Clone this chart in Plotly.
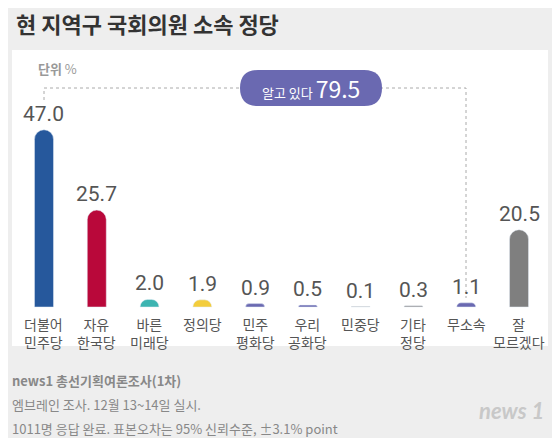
import plotly.graph_objects as go

W, H = 560, 438
OFF = 8  # page body margin
parties = ["더불어<br>민주당", "자유<br>한국당", "바른<br>미래당", "정의당", "민주<br>평화당",
           "우리<br>공화당", "민중당", "기타<br>정당", "무소속", "잘<br>모르겠다"]
values = [47.0, 25.7, 2.0, 1.9, 0.9, 0.5, 0.1, 0.3, 1.1, 20.5]
colors = ["#26589c", "#b9083a", "#3cb4b1", "#f3cd3c", "#6a69b1", "#6a69b1",
          "#8a8a8a", "#8a8a8a", "#6a69b1", "#7f7f7f"]
known_total = 79.5

FONT = "Noto Sans CJK KR"


def px(x, y):
    return (x - OFF) / W, 1 - (y - OFF) / H


x = list(range(len(values)))
fig = go.Figure(go.Bar(x=x, y=values, marker_color=colors, width=0.36,
                       marker_cornerradius=10, hoverinfo="skip"))

ann = []
shapes = []

# background card
x0, y0 = px(12, 50)
x1, y1 = px(548, 346)
shapes.append(dict(type="rect", xref="paper", yref="paper", x0=x0, y0=y1, x1=x1, y1=y0,
                   fillcolor="white", line_width=0, layer="below"))

# dotted bracket
ax, ay = px(44, 88)
bx, by = px(466, 88)
_, cy = px(0, 100)
shapes.append(dict(type="path", xref="paper", yref="paper", layer="below",
                   path=f"M {ax},{cy} L {ax},{ay} L {bx},{ay} L {bx},{px(0,298)[1]}",
                   line=dict(color="#aaaaaa", width=1, dash="dot")))
# pill
pl, pt = px(240, 70)
pr, pb = px(382, 106)
r = 18 / W
shapes.append(dict(type="path", xref="paper", yref="paper", layer="below",
                   path=(f"M {pl + r},{pt} L {pr - r},{pt} Q {pr},{pt} {pr},{(pt + pb) / 2} "
                         f"Q {pr},{pb} {pr - r},{pb} L {pl + r},{pb} Q {pl},{pb} {pl},{(pt + pb) / 2} "
                         f"Q {pl},{pt} {pl + r},{pt} Z"),
                   fillcolor="#6a69b1", line_width=0))
mx, my = px(311, 88)
ann.append(dict(xref="paper", yref="paper", x=mx, y=my, showarrow=False, yanchor="middle",
                text=f"<span style='font-size:13px'>알고 있다 </span><span style='font-size:23px'>{known_total}</span>",
                font=dict(family=FONT, color="white")))

for i, (v, lab) in enumerate(zip(values, parties)):
    ann.append(dict(x=i, y=v, yshift=2, showarrow=False, yanchor="bottom",
                    text=f"{v:.1f}", font=dict(family="Roboto", size=21, color="#555555")))
    ann.append(dict(x=i, y=0, yshift=-5, showarrow=False, yanchor="top",
                    text=lab, font=dict(family=FONT, size=14, color="#555555")))

tx, ty = px(14, 23)
ann.append(dict(xref="paper", yref="paper", x=tx, y=ty, xanchor="left", yanchor="middle", showarrow=False,
                text="<b>현 지역구 국회의원 소속 정당</b>", font=dict(family=FONT, size=22, color="#333333")))
ux, uy = px(36, 69)
ann.append(dict(xref="paper", yref="paper", x=ux, y=uy, xanchor="left", yanchor="middle", showarrow=False,
                text="<b>단위</b> %", font=dict(family=FONT, size=13, color="#999999")))
for yy, txt in [(380, "<b>news1 총선기획여론조사(1차)</b>"),
                (404, "엠브레인 조사. 12월 13~14일 실시."),
                (428, "1011명 응답 완료. 표본오차는 95% 신뢰수준, ±3.1% point")]:
    fx, fy = px(10, yy)
    ann.append(dict(xref="paper", yref="paper", x=fx, y=fy, xanchor="left", yanchor="middle", showarrow=False,
                    text=txt, font=dict(family=FONT, size=13, color="#888888")))
lx, ly = px(546, 410)
ann.append(dict(xref="paper", yref="paper", x=lx, y=ly, xanchor="right", yanchor="middle", showarrow=False,
                text="<b><i>news 1</i></b>", font=dict(family="Lato", size=22, color="#c8c8c8")))

spacing = 52.8
fig.update_layout(
    width=W, height=H, margin=dict(l=0, r=0, t=0, b=0),
    paper_bgcolor="#eeeeee", plot_bgcolor="rgba(0,0,0,0)",
    xaxis=dict(range=[-(44 - OFF) / spacing, 9 + (W - (519 - OFF)) / spacing], visible=False),
    yaxis=dict(range=[-(H - (307 - OFF)) / 3.77, (307 - OFF) / 3.77], visible=False),
    showlegend=False, annotations=ann, shapes=shapes,
)
fig.write_html("out.html")
